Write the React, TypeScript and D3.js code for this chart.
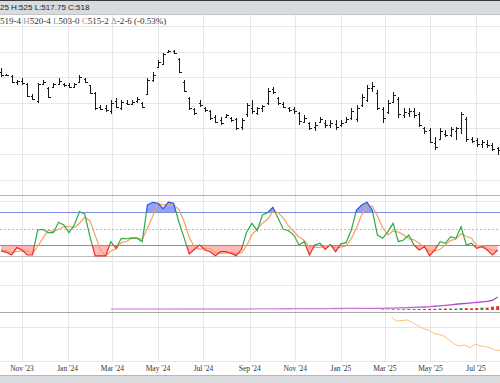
import React from "react";
import * as d3 from "d3";

const W = 500;
const H = 383;

// ---- weekly OHLC (first bar week of 2023-10-04) ----
const firstBarDate = "2023-10-04";
const highs = [667,656,654,644,648,638,618,638,644,631,638,648,638,638,638,654,648,635,622,596,596,605,609,605,605,605,612,602,648,661,684,697,704,703,687,644,612,589,605,592,586,576,573,579,573,570,570,599,605,592,596,628,631,612,602,592,592,583,576,563,563,573,566,566,566,566,573,589,596,618,635,641,625,592,605,622,612,589,589,589,583,553,550,534,550,547,553,553,583,573,534,531,527,527,521,514];
const lows = [651,652,638,635,635,612,605,599,635,609,628,635,631,628,628,638,638,618,586,586,583,579,589,586,596,596,599,589,615,641,667,674,698,695,658,622,586,576,592,583,566,560,557,570,563,547,547,573,579,576,583,596,618,596,589,583,579,557,560,547,544,560,550,550,547,553,560,566,563,592,602,622,586,560,579,599,570,570,573,570,553,540,521,508,527,534,534,527,540,524,521,514,511,511,505,498];
const opens = [660,655,652,640,642,636,614,604,637,628,630,636,636,634,630,640,646,634,620,592,590,584,604,590,600,598,604,600,618,645,670,676,700,702,685,640,610,588,600,590,584,572,566,572,570,568,552,578,590,580,590,600,626,610,598,590,588,580,562,560,552,562,560,556,558,556,562,570,568,596,605,628,620,588,582,602,608,576,580,584,578,550,546,522,530,540,538,545,550,568,530,528,520,520,518,512];
const closes = [655,654,640,642,638,614,607,636,640,612,636,642,634,630,636,650,640,620,590,588,586,600,592,602,598,602,608,592,645,655,680,695,702,697,660,624,590,580,596,586,570,562,560,576,567,550,566,596,584,590,594,624,622,600,592,586,584,565,570,550,556,568,556,560,552,560,568,584,590,612,628,632,590,570,600,616,578,582,584,576,556,544,524,514,545,538,548,550,578,530,526,520,524,518,510,508];

// ---- stochastics ----
const stochK = [10,7.5,2.7,16,11.7,2.7,2.7,47.7,49,43,43,61.6,56.8,43,56.8,80.7,76.6,35.7,1,1,1,26.7,14.7,32.8,32,33.6,33,26.7,92.8,97.6,96,86,98,96,62.7,34,4.5,13,20.7,11.7,8.7,1.5,8.7,8.7,5.7,1.5,13,44.7,59.8,46.5,74.8,79,88.6,68.8,49,46.5,38.7,20.7,26.7,2.7,20.7,23.8,13,21.7,8.7,22.8,24.9,47.7,83.8,92.8,97.6,83.8,38.7,32.8,44.7,59.8,26.7,29.7,38.7,20.7,11.7,17.7,1.5,11.7,26.7,23.8,35.7,32.8,53.7,20.7,23.8,14.7,17.7,11.7,2.7,11.7];
const stochD = [12,10,7,9,10,10,5,18,33,47,45,49,54,54,52,60,71,64,38,12,1,10,14,25,27,33,33,31,51,72,95,93,93,93,85,64,34,17,13,15,14,7,6,6,8,5,7,20,39,50,60,67,81,79,69,55,45,35,29,17,17,16,19,20,15,17,19,32,52,75,91,91,73,52,39,46,44,39,32,30,24,17,10,10,13,21,29,31,41,36,33,20,19,15,11,11];
const stochLevels = [20, 50, 80];

// ---- open interest line (from bar 22) & volume (from bar 74) ----
const oiFirstBar = 22;
const oiValues = [2.1,2.1,2.1,2.1,2.1,2.1,2.1,2.1,2.1,2.1,2.1,2.1,2.1,2.1,2.1,2.1,2.1,2.1,2.1,2.1,2.1,2.1,2.1,2.1,2.1,2.1,2.1,2.3,2.3,2.4,2.4,2.5,2.5,2.6,2.6,2.7,2.7,2.8,2.8,2.9,2.9,3.0,3.0,3.1,3.1,3.2,3.2,3.3,3.3,3.4,3.4,3.5,3.5,3.7,4.0,4.3,4.6,4.9,5.3,5.8,6.3,6.9,7.8,8.8,9.8,10.8,12,13,14,15,16,17,18,19.8,27];
const volFirstBar = 74;
const volValues = [1,1,1.5,1.5,1.5,2,2,2,2,2.5,2.5,3,3,3,3,4,4,3.5,4,5,5,7,8];

// ---- lower study line ----
const lowerDates = ["2025-03-10","2025-03-17","2025-03-24","2025-03-31","2025-04-07","2025-04-14","2025-04-21","2025-04-28","2025-05-05","2025-05-12","2025-05-19","2025-05-26","2025-06-02","2025-06-09","2025-06-16","2025-06-23","2025-06-30","2025-07-07","2025-07-14","2025-07-21","2025-07-28","2025-08-04"];
const lowerValues = [88.4,81.6,82.7,83.7,78.6,72.4,66.3,63.3,56.5,54.1,51,42.9,34.7,30.6,32.7,27.1,34.7,30.6,29.6,26.5,21.4,22.4];

// ---- axis ----
const tickDates = ["2023-11-01","2024-01-01","2024-03-01","2024-05-01","2024-07-01","2024-09-01","2024-11-01","2025-01-01","2025-03-01","2025-05-01","2025-07-01"];
const tickLabels = ["Nov '23","Jan '24","Mar '24","May '24","Jul '24","Sep '24","Nov '24","Jan '25","Mar '25","May '25","Jul '25"];
const priceGrid = [450, 500, 550, 600, 650, 700, 750];

const headerText = "25 H:525 L:517.75 C:518";

const parse = d3.utcParse("%Y-%m-%d");

export default function App() {
  const x = d3.scaleUtc().domain([parse("2023-11-01")!, parse("2025-07-01")!]).range([22, 476]);
  const yP = d3.scaleLinear().domain([500, 750]).range([154, 26]);
  const yS = d3.scaleLinear().domain([0, 100]).range([256.5, 201]);
  const yV = d3.scaleLinear().domain([0, 100]).range([310, 262]);
  const yL = d3.scaleLinear().domain([0, 100]).range([361, 312]);

  const start = parse(firstBarDate)!;
  const barDates = highs.map((_, i) => d3.utcDay.offset(start, 7 * i));
  const bx = (i: number) => x(barDates[i]);

  const kPts: [number, number][] = stochK.map((v, i) => [bx(i), yS(v)]);
  const dPts: [number, number][] = stochD.map((v, i) => [bx(i), yS(v)]);
  const line = d3.line();
  const kPath = line(kPts)!;
  const dPath = line(dPts)!;
  const areaRed = d3.area<[number, number]>().x(d => d[0]).y0(yS(20)).y1(d => d[1])(kPts)!;
  const areaBlue = d3.area<[number, number]>().x(d => d[0]).y0(yS(80)).y1(d => d[1])(kPts)!;

  const oiPath = line(oiValues.map((v, j) => [bx(oiFirstBar - 1 + j), yV(v)] as [number, number]))!;
  const lowerPath = line(lowerValues.map((v, j) => [x(parse(lowerDates[j])!), yL(v)] as [number, number]))!;

  const grid = "#e6e6e6";
  const serif = "'Liberation Serif', 'Times New Roman', serif";
  const sans = "'Liberation Sans', Arial, sans-serif";

  return (
    <svg width={W} height={H} style={{ position: "absolute", left: 0, top: 0, background: "#fff" }}>
      <defs>
        <clipPath id="cAbove"><rect x={0} y={0} width={W} height={yS(80)} /></clipPath>
        <clipPath id="cMid"><rect x={0} y={yS(80)} width={W} height={yS(20) - yS(80)} /></clipPath>
        <clipPath id="cBelow"><rect x={0} y={yS(20)} width={W} height={100} /></clipPath>
        <linearGradient id="oiGrad" gradientUnits="userSpaceOnUse" x1={110} y1={0} x2={500} y2={0}>
          <stop offset="0" stopColor="#e4a0e4" />
          <stop offset="0.6" stopColor="#cc78d8" />
          <stop offset="1" stopColor="#a83ccc" />
        </linearGradient>
      </defs>
      <rect x={0} y={0} width={W} height={H} fill="#fff" />

      {/* vertical grid */}
      {tickDates.map((d, i) => {
        const xx = Math.round(x(parse(d)!)) + 0.5;
        return <line key={"vg" + i} x1={xx} x2={xx} y1={15} y2={362} stroke={grid} strokeWidth={1} />;
      })}
      {/* price horizontal grid */}
      {priceGrid.map((p, i) => {
        const yy = Math.round(yP(p)) + 0.5;
        return <line key={"pg" + i} x1={0} x2={W} y1={yy} y2={yy} stroke={grid} />;
      })}

      {/* price bars */}
      <g stroke="#1a1a1a" strokeWidth={1} shapeRendering="crispEdges">
        {highs.map((h, i) => {
          const xx = Math.round(bx(i)) + 0.5;
          return (
            <g key={"b" + i}>
              <line x1={xx} x2={xx} y1={yP(h)} y2={yP(lows[i])} />
              <line x1={xx - 2} x2={xx} y1={Math.round(yP(opens[i])) + 0.5} y2={Math.round(yP(opens[i])) + 0.5} />
              <line x1={xx} x2={xx + 2} y1={Math.round(yP(closes[i])) + 0.5} y2={Math.round(yP(closes[i])) + 0.5} />
            </g>
          );
        })}
      </g>

      {/* stochastic panel */}
      <line x1={0} x2={W} y1={195.5} y2={195.5} stroke="#b4b4b4" />
      <line x1={0} x2={W} y1={201.5} y2={201.5} stroke={grid} />
      <line x1={0} x2={W} y1={256.5} y2={256.5} stroke="#bdbdbd" />
      <line x1={0} x2={W} y1={261.5} y2={261.5} stroke={grid} />
      <path d={areaRed} fill="#ff9a9a" fillOpacity={0.7} clipPath="url(#cBelow)" />
      <path d={areaBlue} fill="#7085ee" fillOpacity={0.75} clipPath="url(#cAbove)" />
      {stochLevels.map((lv, i) => {
        const yy = Math.round(yS(lv)) + 0.5;
        return lv === 50 ? (
          <line key={"sl" + i} x1={0} x2={W} y1={yy} y2={yy} stroke="#b9b9e6" strokeDasharray="2,2" />
        ) : (
          <line key={"sl" + i} x1={0} x2={W} y1={yy} y2={yy} stroke="#7a8ae6" />
        );
      })}
      <path d={dPath} fill="none" stroke="#f4a060" strokeWidth={1.2} />
      <path d={kPath} fill="none" stroke="#2a52e8" strokeWidth={1.2} clipPath="url(#cAbove)" />
      <path d={kPath} fill="none" stroke="#2eaa4a" strokeWidth={1.2} clipPath="url(#cMid)" />
      <path d={kPath} fill="none" stroke="#f02828" strokeWidth={1.2} clipPath="url(#cBelow)" />

      {/* volume / OI panel */}
      <line x1={0} x2={W} y1={285.5} y2={285.5} stroke={grid} />
      <path d={oiPath} fill="none" stroke="url(#oiGrad)" strokeWidth={1.3} />
      {volValues.map((v, j) => {
        const i = volFirstBar - 1 + j;
        const up = closes[i] >= opens[i];
        const xx = bx(i);
        return <rect key={"v" + j} x={xx - 1.5} y={yV(v)} width={3} height={yV(0) - yV(v)} fill={up ? "#22a03a" : "#ee3322"} />;
      })}
      <line x1={0} x2={W} y1={312.5} y2={312.5} stroke="#a8a8a8" />

      {/* lower panel */}
      <line x1={0} x2={W} y1={327.5} y2={327.5} stroke={grid} />
      <line x1={0} x2={W} y1={361.5} y2={361.5} stroke={grid} />
      <path d={lowerPath} fill="none" stroke="#ffc07c" strokeWidth={1} />

      {/* x axis labels */}
      {tickDates.map((d, i) => (
        <text key={"tl" + i} x={x(parse(d)!)} y={371} fontFamily={serif} fontSize={7.5} fill="#333" textAnchor="middle">
          {tickLabels[i]}
        </text>
      ))}

      {/* bottom band */}
      <rect x={0} y={376} width={W} height={7} fill="#d9dcdf" />
      <line x1={0} x2={W} y1={375.5} y2={375.5} stroke="#b8b8b8" />

      {/* header */}
      <rect x={0} y={0} width={W} height={14.5} fill="#d9dcdf" />
      <line x1={0} x2={W} y1={0.5} y2={0.5} stroke="#3a3a3a" />
      <line x1={0} x2={W} y1={14.5} y2={14.5} stroke="#c2c4c7" />
      <text x={0} y={10} fontFamily={sans} fontSize={8} fill="#222">{headerText}</text>

      <text x={0} y={23.5} fontFamily={serif} fontSize={9} fill="#333">
        <tspan>519-4 </tspan>
        <tspan fill="#999">H</tspan><tspan>520-4 </tspan>
        <tspan fill="#999">L</tspan><tspan>503-0 </tspan>
        <tspan fill="#999">C</tspan><tspan>515-2 </tspan>
        <tspan fill="#999">Δ</tspan><tspan>-2-6 (-0.53%)</tspan>
      </text>
    </svg>
  );
}
